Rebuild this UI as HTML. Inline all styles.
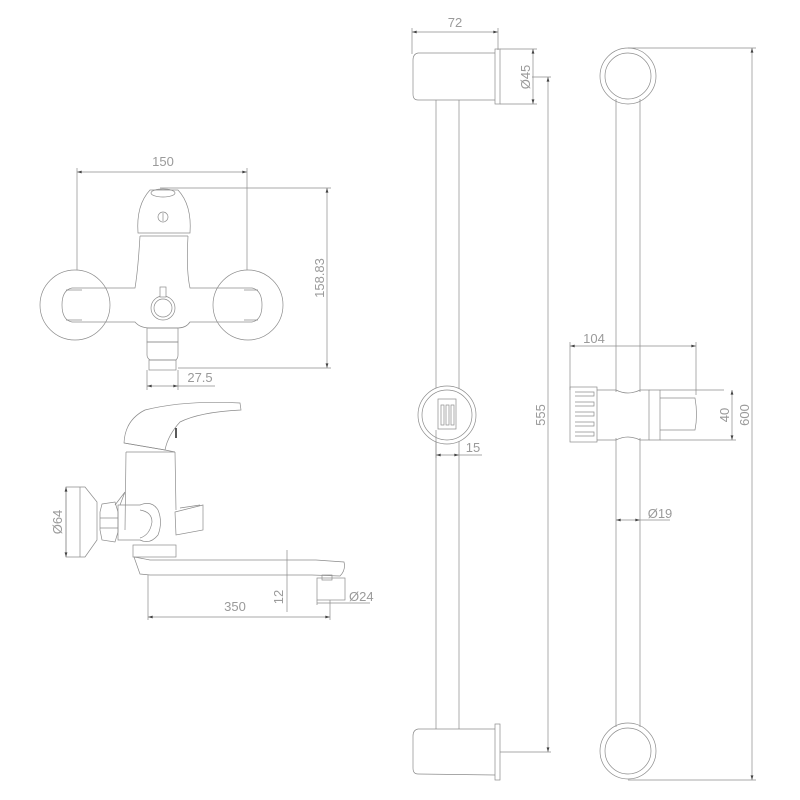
<!DOCTYPE html>
<html><head><meta charset="utf-8"><style>
html,body{margin:0;padding:0;background:#fff;}
svg{display:block}
text{font-family:"Liberation Sans",sans-serif;fill:#9a9a9a;font-size:13px}
</style></head><body>
<svg width="800" height="800" viewBox="0 0 800 800" xmlns="http://www.w3.org/2000/svg">
<defs>
<marker id="a" viewBox="0 0 10 6" refX="10" refY="3" markerWidth="8" markerHeight="4" orient="auto-start-reverse"><path d="M0,0 L10,3 L0,6z" fill="#444"/></marker>
</defs>
<g fill="none" stroke="#8c8c8c" stroke-width="0.7">
<!-- Top faucet -->
<line x1="77" y1="172" x2="247" y2="172" marker-start="url(#a)" marker-end="url(#a)"/>
<line x1="77" y1="168" x2="77" y2="270"/>
<line x1="247" y1="168" x2="247" y2="270"/>
<line x1="160" y1="188" x2="331" y2="188"/>
<line x1="327" y1="188" x2="327" y2="368" marker-start="url(#a)" marker-end="url(#a)"/>
<line x1="178" y1="368" x2="331" y2="368"/>
<circle cx="75" cy="305" r="35"/>
<circle cx="248" cy="305" r="35"/>
<path d="M138,233 Q136,205 150,190 L178,190 Q192,205 190,233 Z"/>
<ellipse cx="163" cy="193" rx="12" ry="4"/>
<circle cx="163" cy="217" r="5"/>
<line x1="163" y1="213" x2="163" y2="221"/>
<path d="M140,236 L188,236 M140,236 Q138,270 135,288 L72,288 Q62,290 62,305 Q62,320 72,322 L135,322 Q140,328 150,328 L178,328 Q186,328 190,322 L252,322 Q262,320 262,305 Q262,290 252,288 L190,288 Q186,270 188,236"/>
<path d="M66,290 L82,290 M66,320 L82,320 M244,290 L258,290 M244,320 L258,320"/>
<circle cx="163" cy="308" r="12"/>
<circle cx="163" cy="308" r="9"/>
<rect x="160" y="287" width="6" height="10" fill="#fff"/>
<rect x="147" y="328" width="31" height="14"/>
<path d="M147,342 L178,342 L178,355 Q178,358 176,360 L150,360 Q147,358 147,355 Z"/>
<rect x="149" y="360" width="27" height="10"/>
<line x1="147" y1="370" x2="147" y2="390"/>
<line x1="178" y1="370" x2="178" y2="390"/>
<line x1="147" y1="386" x2="178" y2="386" marker-start="url(#a)" marker-end="url(#a)"/>
<line x1="178" y1="386" x2="215" y2="386"/>
<!-- Side faucet -->
<path d="M124,443 Q125,420 145,410 Q185,400 240,403 L241,410 Q200,412 180,422 Q168,435 165,450 Z"/>
<path d="M124,443 L165,450 L175,452"/>
<line x1="176" y1="428" x2="176" y2="438" stroke="#222" stroke-width="1.5"/>
<line x1="126" y1="452" x2="175" y2="452"/>
<path d="M126,452 L125,530 M175,452 L176,510"/>
<path d="M125,492 L115,505 M125,492 L120,505"/>
<path d="M66,487 L85,487 L97,502 L97,540 L85,557 L66,557 Z"/>
<line x1="80" y1="487" x2="80" y2="557"/>
<path d="M102,504 L115,502 L118,512 L118,532 L115,542 L102,540 L100,530 L100,512 Z"/>
<line x1="100" y1="518" x2="118" y2="518"/><line x1="100" y1="528" x2="118" y2="528"/>
<path d="M118,505 L140,505 Q152,500 158,510 Q163,522 158,535 Q150,545 140,540 L118,540 Z"/>
<path d="M140,510 Q152,512 152,522 Q150,535 140,538"/>
<path d="M175,512 L203,505 L203,530 L176,535 Z"/>
<path d="M180,508 L200,505"/>
<rect x="133" y="545" width="43" height="12"/>
<path d="M134,557 L140,574 L150,575 L312,575 L340,576 Q346,570 344,562 L316,560 L150,560 Q140,558 134,557"/>
<line x1="148" y1="575" x2="148" y2="620"/>
<rect x="317" y="578" width="28" height="22"/>
<rect x="322" y="575" width="10" height="5"/>
<line x1="287" y1="550" x2="287" y2="612"/>
<line x1="148" y1="617" x2="330" y2="617" marker-start="url(#a)" marker-end="url(#a)"/>
<line x1="330" y1="600" x2="330" y2="620"/>
<line x1="317" y1="600" x2="317" y2="605"/>
<line x1="317" y1="603" x2="345" y2="603"/>
<line x1="345" y1="603" x2="370" y2="603"/>
<line x1="66" y1="487" x2="66" y2="557" marker-start="url(#a)" marker-end="url(#a)"/>
<!-- Left rail -->
<line x1="412" y1="32" x2="498" y2="32" marker-start="url(#a)" marker-end="url(#a)"/>
<line x1="412" y1="28" x2="412" y2="54"/>
<line x1="498" y1="28" x2="498" y2="50"/>
<path d="M495,53 L418,53 Q413,54 413,60 L413,94 Q413,100 418,100 L495,100"/>
<rect x="495" y="49" width="5" height="55"/>
<line x1="500" y1="49" x2="537" y2="49"/>
<line x1="500" y1="104" x2="537" y2="104"/>
<line x1="533" y1="49" x2="533" y2="104" marker-start="url(#a)" marker-end="url(#a)"/>
<line x1="436" y1="100" x2="436" y2="729"/>
<line x1="459" y1="100" x2="459" y2="729"/>
<line x1="532" y1="77" x2="551" y2="77"/>
<line x1="548" y1="77" x2="548" y2="752" marker-start="url(#a)" marker-end="url(#a)"/>
<line x1="500" y1="752" x2="551" y2="752"/>
<path d="M495,729 L418,729 Q413,730 413,736 L413,768 Q413,774 418,774 L495,775"/>
<rect x="495" y="724" width="5" height="56"/>
<circle cx="447" cy="415" r="29" fill="#fff"/>
<circle cx="447" cy="415" r="25"/>
<rect x="438" y="399" width="18" height="30" fill="#fff"/>
<rect x="441" y="405" width="3" height="20"/><rect x="446" y="405" width="3" height="20"/><rect x="451" y="405" width="3" height="20"/>
<line x1="436" y1="430" x2="436" y2="458"/>
<line x1="436" y1="455" x2="459" y2="455" marker-start="url(#a)" marker-end="url(#a)"/>
<line x1="459" y1="455" x2="482" y2="455"/>
<!-- Right rail -->
<circle cx="628" cy="76" r="28"/>
<circle cx="628" cy="76" r="23"/>
<line x1="628" y1="48" x2="756" y2="48"/>
<line x1="752" y1="48" x2="752" y2="780" marker-start="url(#a)" marker-end="url(#a)"/>
<line x1="628" y1="780" x2="756" y2="780"/>
<line x1="616" y1="99" x2="616" y2="392"/><line x1="640" y1="99" x2="640" y2="392"/>
<line x1="616" y1="438" x2="616" y2="727"/><line x1="640" y1="438" x2="640" y2="727"/>
<circle cx="628" cy="751" r="28"/>
<circle cx="628" cy="751" r="23"/>
<line x1="570" y1="346" x2="696" y2="346" marker-start="url(#a)" marker-end="url(#a)"/>
<line x1="570" y1="342" x2="570" y2="390"/>
<line x1="696" y1="342" x2="696" y2="395"/>
<rect x="570" y="387" width="27" height="55"/>
<path d="M575,392 L594,392 L594,396 L575,396 M575,402 L594,402 L594,406 L575,406 M575,412 L594,412 L594,416 L575,416 M575,422 L594,422 L594,426 L575,426 M575,432 L594,432 L594,436 L575,436"/>
<path d="M597,390 L616,390 Q628,396 640,390 L649,390 L649,440 L640,440 Q628,434 616,440 L597,440"/>
<path d="M649,390 L660,390 L660,440 L649,440 M660,390 L724,390 M660,398 L695,398 Q698,415 695,430 L660,430"/>
<line x1="660" y1="440" x2="736" y2="440"/>
<line x1="732" y1="390" x2="732" y2="440" marker-start="url(#a)" marker-end="url(#a)"/>
<line x1="616" y1="520" x2="640" y2="520" marker-start="url(#a)" marker-end="url(#a)"/>
<line x1="640" y1="520" x2="670" y2="520"/>
</g>
<text x="163" y="166" text-anchor="middle">150</text>
<text transform="translate(324,278) rotate(-90)" text-anchor="middle">158.83</text>
<text x="200" y="382" text-anchor="middle">27.5</text>
<text transform="translate(62,522) rotate(-90)" text-anchor="middle">Ø64</text>
<text transform="translate(283,597) rotate(-90)" text-anchor="middle">12</text>
<text x="235" y="611" text-anchor="middle">350</text>
<text x="349" y="601">Ø24</text>
<text x="455" y="27" text-anchor="middle">72</text>
<text transform="translate(530,77) rotate(-90)" text-anchor="middle">Ø45</text>
<text transform="translate(545,415) rotate(-90)" text-anchor="middle">555</text>
<text x="473" y="452" text-anchor="middle">15</text>
<text x="594" y="343" text-anchor="middle">104</text>
<text transform="translate(729,415) rotate(-90)" text-anchor="middle">40</text>
<text transform="translate(749,415) rotate(-90)" text-anchor="middle">600</text>
<text x="660" y="518" text-anchor="middle">Ø19</text>
</svg>
</body></html>
